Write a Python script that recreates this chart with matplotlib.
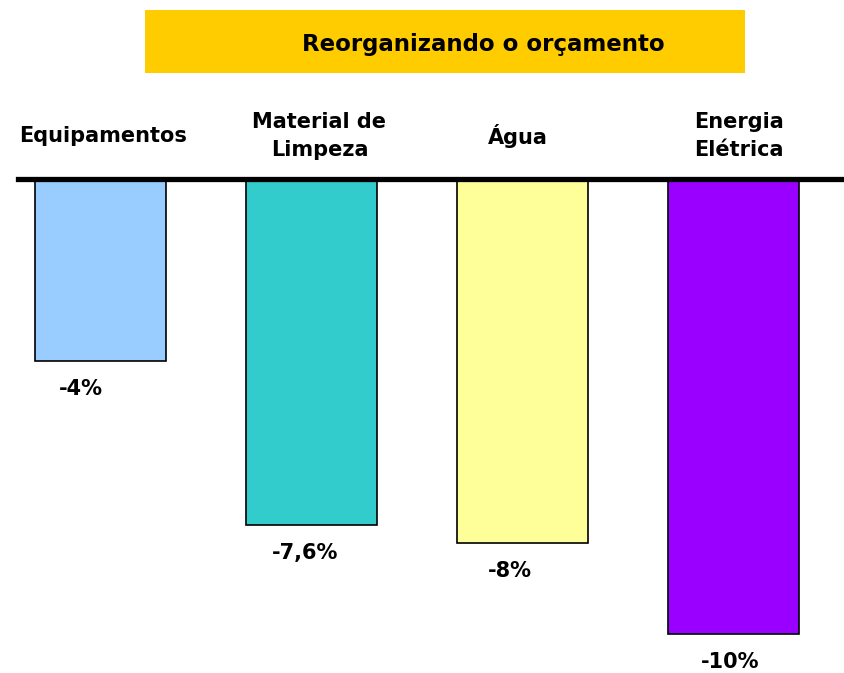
import matplotlib.pyplot as plt
from matplotlib.patches import Rectangle

categories = ['Equipamentos', 'Material de\nLimpeza', 'Água', 'Energia\nElétrica']
values = [-4, -7.6, -8, -10]
value_labels = ['-4%', '-7,6%', '-8%', '-10%']
colors = ['#99CCFF', '#33CCCC', '#FFFF99', '#9900FF']

W, H = 845, 673
fig = plt.figure(figsize=(W / 100, H / 100), dpi=100)

# eixo: da linha do zero (y=179px) até o fim da figura
ax = fig.add_axes([18 / W, 0, (W - 18) / W, (H - 179) / H])
x = list(range(len(values)))
ax.bar(x, values, width=0.62, color=colors, edgecolor='black', linewidth=1.2, zorder=2)
ax.set_xlim(-0.389, 3.53)
ax.set_ylim(-10.86, 0)
ax.axhline(0, color='black', linewidth=3.8, clip_on=False, zorder=3)
ax.axis('off')

label_dx = [-14, -4, -9, -2]
for xi, v, lab, dx in zip(x, values, value_labels, label_dx):
    ax.annotate(lab, (xi, v), xytext=(dx, -13), textcoords='offset points',
                ha='center', va='top', fontsize=15, fontweight='bold')

cat_dx = [2, 6, -3, 4]
for xi, cat, dx in zip(x, categories, cat_dx):
    ax.annotate(cat, (xi, 0), xytext=(dx, 31), textcoords='offset points',
                ha='center', va='center', fontsize=15, fontweight='bold',
                linespacing=1.5, annotation_clip=False)

# caixa do título
fig.patches.append(Rectangle((145 / W, 1 - 73 / H), 600 / W, 63 / H,
                             transform=fig.transFigure, facecolor='#FFCC00',
                             edgecolor='none'))
fig.text(483 / W, 1 - 45 / H, 'Reorganizando o orçamento', ha='center', va='center',
         fontsize=16.5, fontweight='bold')

fig.savefig('out.png', dpi=100)
